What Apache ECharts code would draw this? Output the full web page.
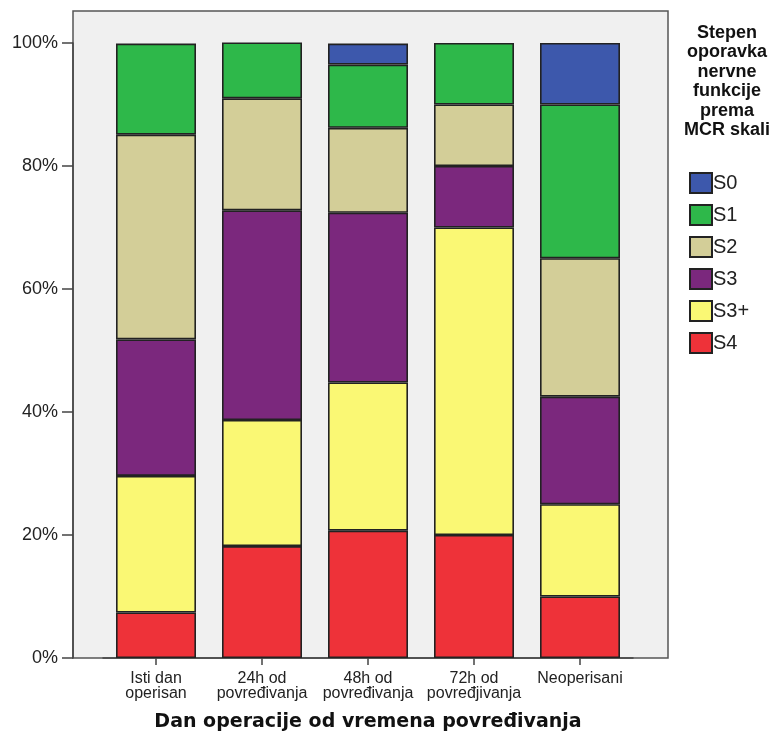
<!DOCTYPE html>
<html>
<head>
<meta charset="utf-8">
<script src="https://cdn.jsdelivr.net/npm/echarts@6/dist/echarts.min.js"></script>
<style>html,body{margin:0;padding:0;background:#fff}#c{width:778px;height:742px}</style>
</head>
<body>
<div id="c"></div>
<script>
const categories = ['Isti dan\noperisan', '24h od\npovređivanja', '48h od\npovređivanja', '72h od\npovređjivanja', 'Neoperisani'];
const yTicks = [0, 20, 40, 60, 80, 100];
const seriesNames = ['S4', 'S3+', 'S3', 'S2', 'S1', 'S0'];
const S4  = [7.4, 18.2, 20.7, 20, 10];
const S3p = [22.2, 20.5, 24.1, 50, 15];
const S3  = [22.2, 34.1, 27.6, 10, 17.5];
const S2  = [33.3, 18.2, 13.8, 10, 22.5];
const S1  = [14.8, 9.1, 10.3, 10, 25];
const S0  = ['-', '-', 3.4, '-', 10];
const colors = { 'S0': '#3D58AC', 'S1': '#2EB84A', 'S2': '#D3CE98', 'S3': '#7B287D', 'S3+': '#FAF874', 'S4': '#EE3239' };
const legendOrder = ['S0', 'S1', 'S2', 'S3', 'S3+', 'S4'];
const values = { 'S4': S4, 'S3+': S3p, 'S3': S3, 'S2': S2, 'S1': S1, 'S0': S0 };

const chart = echarts.init(document.getElementById('c'), null, { renderer: 'canvas' });
const font = 'Liberation Sans, Arial, sans-serif';
chart.setOption({
  animation: false,
  backgroundColor: '#fff',
  graphic: [
    { type: 'rect', z: -10, shape: { x: 73, y: 11, width: 595, height: 647 },
      style: { fill: '#F0F0F0', stroke: '#555', lineWidth: 1.5 } },
    { type: 'text', x: 727, y: 23, style: {
      text: 'Stepen\noporavka\nnervne\nfunkcije\nprema\nMCR skali', align: 'center', verticalAlign: 'top',
      font: 'bold 18px Liberation Sans, Arial, sans-serif', fill: '#111', lineHeight: 19.5 } }
  ],
  grid: { left: 103, width: 530, top: 43, bottom: 84, containLabel: false },
  xAxis: {
    type: 'category', data: categories,
    axisLine: { show: true, lineStyle: { color: '#444', width: 1.5 } },
    axisTick: { show: true, alignWithLabel: true, length: 7, lineStyle: { color: '#444', width: 1.5 } },
    axisLabel: { interval: 0, hideOverlap: false, color: '#222', fontSize: 16, fontFamily: font, lineHeight: 15, margin: 13 },
    name: 'Dan operacije od vremena povređivanja', nameLocation: 'middle', nameGap: 55,
    nameTextStyle: { fontFamily: 'DejaVu Sans', fontWeight: 'bold', fontSize: 19, color: '#111' }
  },
  yAxis: {
    type: 'value', min: 0, max: 100, interval: 20, offset: 30,
    axisLine: { show: true, lineStyle: { color: '#444', width: 1.5 } },
    axisTick: { show: true, length: 11, lineStyle: { color: '#444', width: 1.5 } },
    splitLine: { show: false },
    axisLabel: { formatter: v => yTicks.includes(v) ? v + '%' : '', color: '#222', fontSize: 18, fontFamily: font, margin: 15 }
  },
  legend: {
    data: legendOrder, orient: 'vertical', left: 684, top: 167,
    itemWidth: 22, itemHeight: 20, itemGap: 10, icon: 'rect',
    textStyle: { fontSize: 20, fontFamily: font, color: '#222', padding: [0, 0, 0, -4] },
    selectedMode: false
  },
  series: seriesNames.map(n => ({
    name: n, type: 'bar', stack: 'all', barWidth: 80, data: values[n],
    itemStyle: { color: colors[n], borderColor: '#222', borderWidth: 1.6 }
  }))
});
</script>
</body>
</html>
